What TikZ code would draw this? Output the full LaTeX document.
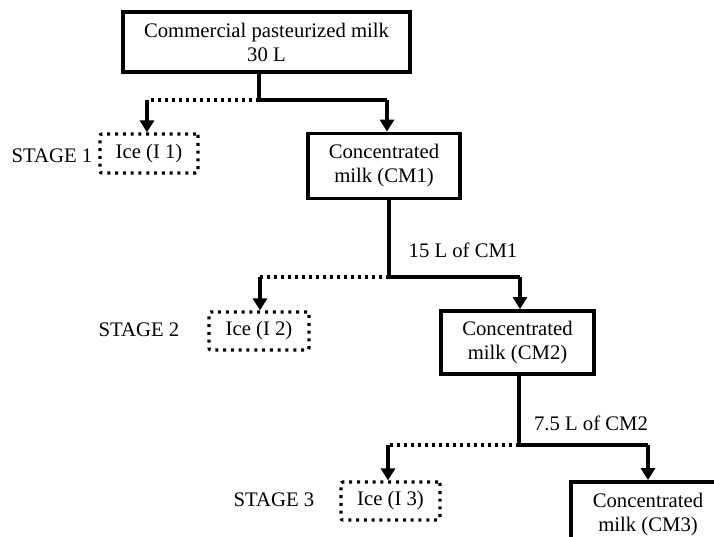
\documentclass[tikz,border=0pt]{standalone}
\usepackage{fontspec}
\setmainfont{Liberation Serif}
\usetikzlibrary{arrows.meta}
\begin{document}
\begin{tikzpicture}[x=1pt,y=-1pt,
  every node/.style={font=\fontsize{20.7}{24}\selectfont, align=center, inner sep=0pt},
  solidbox/.style={draw, line width=3.8pt},
  icebox/.style={draw, line width=3.2pt, dash pattern=on 3pt off 4.8pt, rounded corners=2pt},
  conn/.style={line width=3.5pt},
  dotconn/.style={line width=3.6pt, dash pattern=on 3.4pt off 3.6pt},
  arr/.style={line width=3.5pt, -{Triangle[width=14pt,length=12pt]}}]
\useasboundingbox (0,0) rectangle (714,537);
\begin{scope}
\clip (0,0) rectangle (714,537);
% boxes
\node[solidbox, minimum width=287pt, minimum height=60pt] (top) at (266.5,42) {Commercial pasteurized milk\\30 L};
\node[icebox, minimum width=98pt, minimum height=39pt] (ice1) at (149,153.5) {Ice (I 1)};
\node[solidbox, minimum width=152pt, minimum height=65pt] (cm1) at (384,166) {Concentrated\\milk (CM1)};
\node[icebox, minimum width=100pt, minimum height=38pt] (ice2) at (259,331) {Ice (I 2)};
\node[solidbox, minimum width=153pt, minimum height=63pt] (cm2) at (517.5,342.5) {Concentrated\\milk (CM2)};
\node[icebox, minimum width=99pt, minimum height=38pt] (ice3) at (390.5,501) {Ice (I 3)};
\node[solidbox, minimum width=154pt, minimum height=66pt] (cm3) at (648,515) {Concentrated\\milk (CM3)};
% labels
\node (s1) at (52,156) {STAGE 1};
\node (s2) at (139,330) {STAGE 2};
\node (s3) at (274,500) {STAGE 3};
\node (v1) at (463,250) {15 L of CM1};
\node (v2) at (591,423) {7.5 L of CM2};
% junctions
\coordinate (j1) at (259,100);
\coordinate (j2) at (389,277);
\coordinate (j3) at (519,445);
\coordinate (d1) at (147,100);
\coordinate (d2) at (260,277);
\coordinate (d3) at (388,445);
\coordinate (a1) at (387,100);
\coordinate (a2) at (520,277);
\coordinate (a3) at (648,445);
% stage 1
\draw[conn] (j1 |- top.south) -- (j1) -- (a1);
\draw[arr] (a1) -- (a1 |- cm1.north);
\draw[dotconn] (j1) -- (d1);
\draw[arr] (d1) -- (d1 |- ice1.north);
% stage 2
\draw[conn] (j2 |- cm1.south) -- (j2) -- (a2);
\draw[arr] (a2) -- (a2 |- cm2.north);
\draw[dotconn] (j2) -- (d2);
\draw[arr] (d2) -- (d2 |- ice2.north);
% stage 3
\draw[conn] (j3 |- cm2.south) -- (j3) -- (a3);
\draw[arr] (a3) -- (a3 |- cm3.north);
\draw[dotconn] (j3) -- (d3);
\draw[arr] (d3) -- (d3 |- ice3.north);
\end{scope}
\end{tikzpicture}
\end{document}
